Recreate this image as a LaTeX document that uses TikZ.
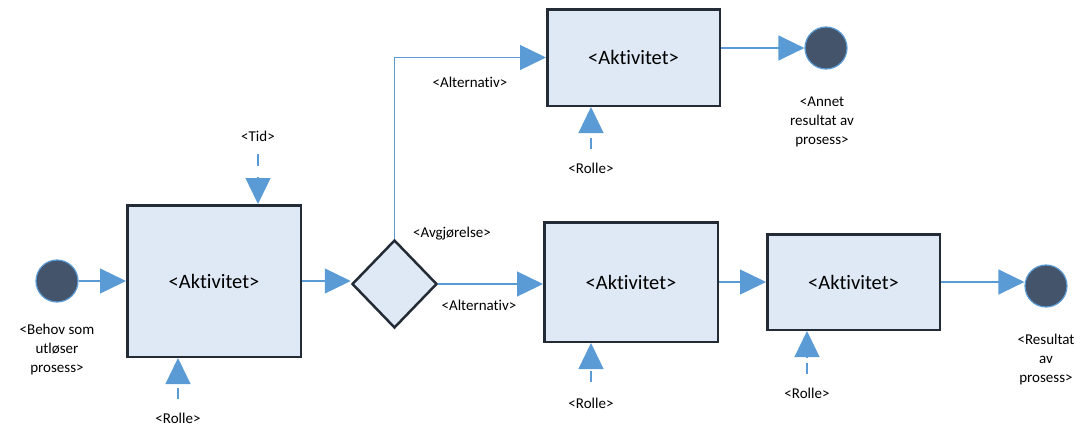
\documentclass[tikz,border=0pt]{standalone}
\usepackage{fontspec}
\setmainfont{Carlito}[RawFeature={-liga}]
\usetikzlibrary{arrows.meta,shapes.geometric}
\definecolor{lb}{RGB}{91,155,213}
\definecolor{boxfill}{RGB}{222,233,245}
\definecolor{boxline}{RGB}{35,43,54}
\definecolor{dotfill}{RGB}{68,84,106}
\begin{document}
\begin{tikzpicture}[x=1pt,y=-1pt,
  act/.style={draw=boxline,fill=boxfill,line width=2.5pt,inner sep=0pt,font=\fontsize{20.5}{24}\selectfont},
  dec/.style={diamond,draw=boxline,fill=boxfill,line width=2.5pt,inner sep=0pt,minimum width=85pt,minimum height=88pt},
  enddot/.style={circle,draw=lb,fill=dotfill,line width=1.2pt,minimum size=42pt,inner sep=0pt},
  lbl/.style={align=center,font=\fontsize{15}{19}\selectfont,inner sep=0pt},
  flow/.style={draw=lb,line width=1.3pt,-{Triangle[length=26pt,width=25pt]}},
  stub/.style={draw=lb,line width=1.3pt}]
\useasboundingbox (0,0) rectangle (1089,434);

% activity boxes
\node[act,minimum width=173.5pt,minimum height=151.5pt] (b1) at (214,281) {<Aktivitet>};
\node[dec] (d) at (394.5,284) {};
\node[act,minimum width=172.5pt,minimum height=96.5pt] (top) at (633.5,57.5) {<Aktivitet>};
\node[act,minimum width=173.5pt,minimum height=119.5pt] (mid) at (631,282) {<Aktivitet>};
\node[act,minimum width=172.5pt,minimum height=95.5pt] (b3) at (853.5,282) {<Aktivitet>};

% start / end events
\node[enddot] (s) at (57,281) {};
\node[enddot] (e1) at (826,48) {};
\node[enddot] (e2) at (1046,286) {};

% labels
\node[lbl] (ls) at (57,349) {<Behov som\\utløser\\prosess>};
\node[lbl] (lr1) at (178,418) {<Rolle>};
\node[lbl] (lt) at (258,136) {<Tid>};
\node[lbl] (lav) at (452,234) {<Avgjørelse>};
\node[lbl] (la1) at (470,82) {<Alternativ>};
\node[lbl] (la2) at (479,305) {<Alternativ>};
\node[lbl] (le1) at (822,122) {<Annet\\resultat av\\prosess>};
\node[lbl] (lr2) at (591,168) {<Rolle>};
\node[lbl] (lr3) at (591,403) {<Rolle>};
\node[lbl] (lr4) at (807,393) {<Rolle>};
\node[lbl] (le2) at (1046,359) {<Resultat\\av\\prosess>};

% flow connectors
\draw[flow] (s.east) -- (b1.west);
\draw[flow] (b1.east) -- (b1.east -| d.west);
\draw[flow] (d.north) |- (top.west);
\draw[flow] (d.east) -- (d.east -| mid.west);
\draw[flow] (mid.east) -- (b3.west);
\draw[flow] (b3.east) -- (b3.east -| e2.west);
\draw[flow] (top.east |- e1.west) -- (e1.west);

% time input
\coordinate (tt) at (258,177);
\coordinate (ts1) at (258,154);
\coordinate (ts2) at (258,166);
\draw[stub] (ts1) -- (ts2);
\draw[flow] (tt) -- (tt |- b1.north);

% role inputs
\coordinate (r1t) at (178,383);
\coordinate (r1a) at (178,388);
\coordinate (r1b) at (178,399);
\draw[stub] (r1a) -- (r1b);
\draw[flow] (r1t) -- (r1t |- b1.south);

\coordinate (r2t) at (591,132);
\coordinate (r2a) at (591,138);
\coordinate (r2b) at (591,149);
\draw[stub] (r2a) -- (r2b);
\draw[flow] (r2t) -- (r2t |- top.south);

\coordinate (r3t) at (591,368);
\coordinate (r3a) at (591,371);
\coordinate (r3b) at (591,382);
\draw[stub] (r3a) -- (r3b);
\draw[flow] (r3t) -- (r3t |- mid.south);

\coordinate (r4t) at (807,357);
\coordinate (r4a) at (807,363);
\coordinate (r4b) at (807,374);
\draw[stub] (r4a) -- (r4b);
\draw[flow] (r4t) -- (r4t |- b3.south);
\end{tikzpicture}
\end{document}
